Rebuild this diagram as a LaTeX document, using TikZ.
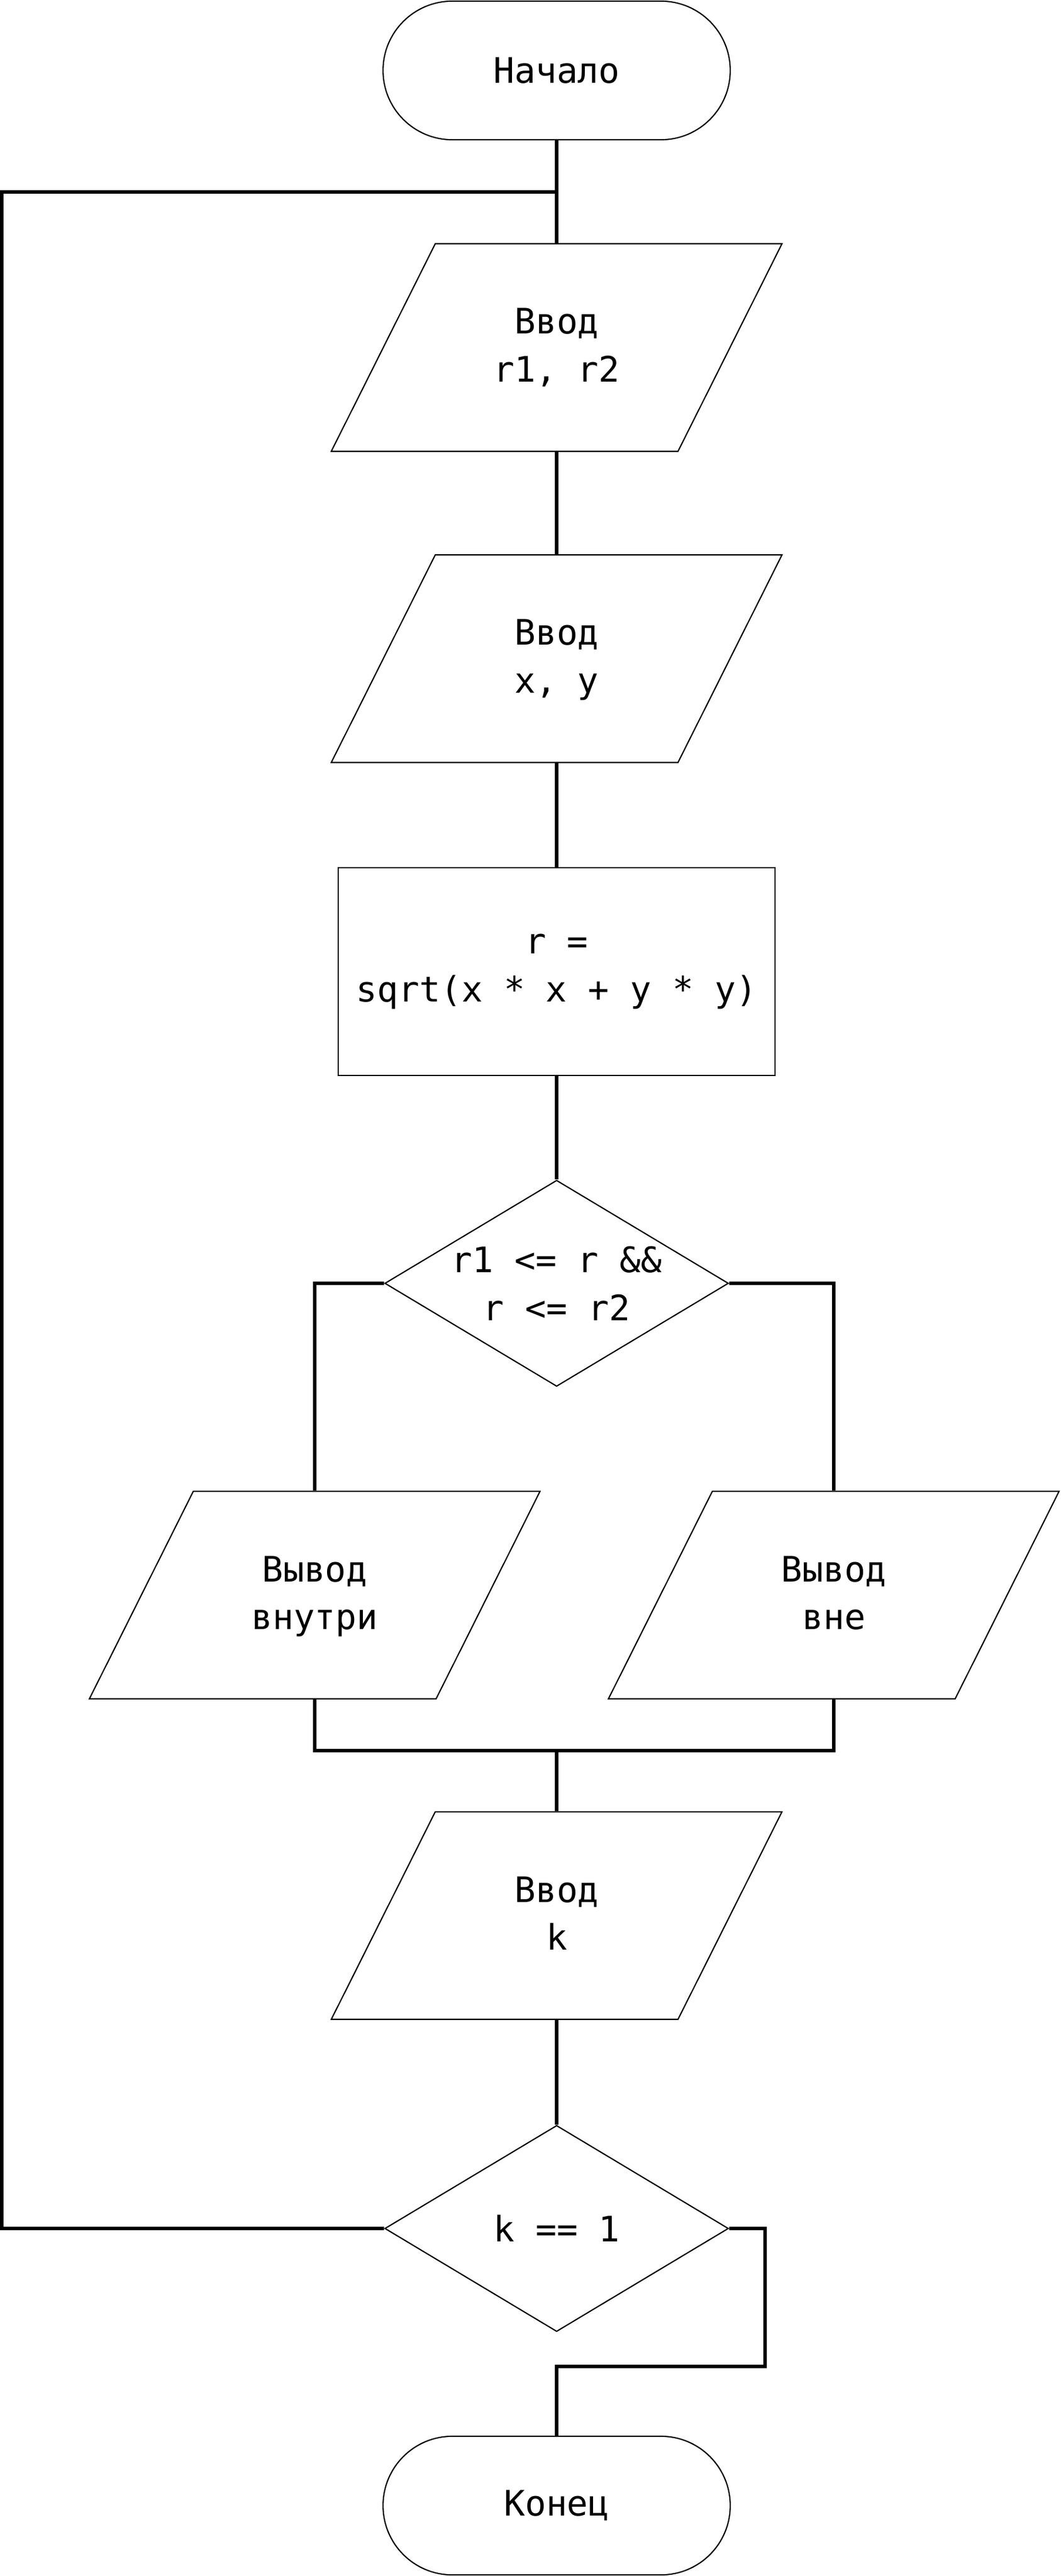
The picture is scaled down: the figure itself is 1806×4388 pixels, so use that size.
\documentclass[tikz,border=0pt]{standalone}
\usepackage{fontspec}
\setmonofont{DejaVu Sans Mono}
\usetikzlibrary{shapes.geometric}
\begin{document}
\begin{tikzpicture}[x=0.01cm, y=0.01cm,
	every node/.style={font=\ttfamily\fontsize{17}{23.3}\selectfont, align=center, draw, line width=0.6pt},
	term/.style={rectangle, rounded corners=1.18cm, minimum width=5.91cm, minimum height=2.36cm},
	io/.style={trapezium, trapezium left angle=63.4, trapezium right angle=116.6, trapezium stretches body=true, inner ysep=0pt, text height=67pt, text depth=33.5pt, minimum width=7.67cm},
	proc/.style={rectangle, minimum width=7.44cm, minimum height=3.54cm},
	cond/.style={diamond, aspect=1.667, inner sep=0pt, minimum width=5.85cm, minimum height=3.51cm},
	line/.style={line width=1.7pt}]
	\useasboundingbox (0,0) rectangle (1806,-4388);
	\node[term] (start) at (948,-120) {Начало};
	\node[io] (inR) at (948,-592) {Ввод\\r1, r2};
	\node[io] (inXY) at (948,-1122) {Ввод\\x, y};
	\node[proc] (calc) at (948,-1655) {r =\\sqrt(x * x + y * y)};
	\node[cond] (ring) at (948,-2186) {r1 <= r \&\&\\r <= r2};
	\node[io] (outIn) at (536,-2717) {Вывод\\внутри};
	\node[io] (outOut) at (1420,-2717) {Вывод\\вне};
	\node[io] (inK) at (948,-3263) {Ввод\\k};
	\node[cond] (again) at (948,-3796) {k == 1};
	\node[term] (stop) at (948,-4268) {Конец};
	\coordinate (join) at (948,-327);
	\coordinate (loopT) at (3,-327);
	\coordinate (loopB) at (3,-3796);
	\coordinate (merge) at (948,-2982);
	\coordinate (exitR) at (1303,-4031);
	\draw[line] (start.south)--(inR.north);
	\draw[line] (inR.south)--(inXY.north);
	\draw[line] (inXY.south)--(calc.north);
	\draw[line] (calc.south)--(ring.north);
	\draw[line] (ring.west)-|(outIn.north);
	\draw[line] (ring.east)-|(outOut.north);
	\draw[line] (outIn.south)|-(merge)-|(outOut.south);
	\draw[line] (merge)--(inK.north);
	\draw[line] (inK.south)--(again.north);
	\draw[line] (again.west)--(loopB)--(loopT)--(join);
	\draw[line] (again.east)-|(exitR)-|(stop.north);
\end{tikzpicture}
\end{document}
